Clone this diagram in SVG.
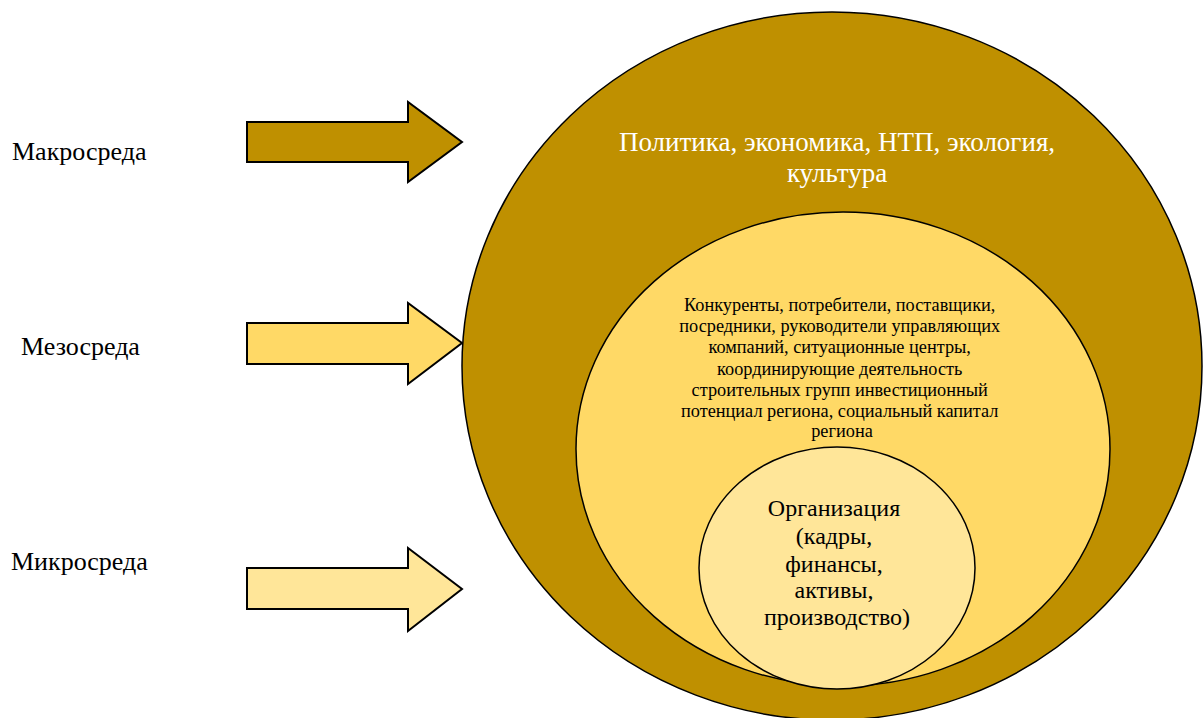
<svg xmlns="http://www.w3.org/2000/svg" width="1203" height="718" viewBox="0 0 1203 718">
<style>
.t{font-family:"Liberation Serif","Times New Roman",serif;text-anchor:middle}
.lbl{font-family:"Liberation Serif","Times New Roman",serif;font-size:26px;fill:#000}
.arr{stroke:#000;stroke-width:2;stroke-linejoin:miter}
.ell{stroke:#000;stroke-width:1.5}
</style>
<rect width="1203" height="718" fill="#fff"/>
<g id="label-macro"><text class="lbl" x="12" y="160">Макросреда</text></g>
<g id="label-meso"><text class="lbl" x="21" y="355">Мезосреда</text></g>
<g id="label-micro"><text class="lbl" x="11" y="570">Микросреда</text></g>
<g id="connectors">
<polygon class="arr" fill="#BF9000" points="247,122 408,122 408,102 462,142 408,182 408,162 247,162"/>
<polygon class="arr" fill="#FFD966" points="247,323 408,323 408,303 462,343 408,384 408,364 247,364"/>
<polygon class="arr" fill="#FFE699" points="247,568 408,568 408,548 462,589 408,631 408,609 247,609"/>
</g>
<g id="macro">
<ellipse class="ell" cx="832" cy="366" rx="370" ry="354" fill="#BF9000"/>
<text class="t" font-size="27" fill="#fff" x="837" y="151">Политика, экономика, НТП, экология,</text>
<text class="t" font-size="27" fill="#fff" x="837" y="182">культура</text>
</g>
<g id="meso">
<ellipse class="ell" cx="843" cy="449" rx="267" ry="237" fill="#FFD966"/>
<text class="t" font-size="18.3" fill="#000">
<tspan x="842" y="311">Конкуренты, потребители, поставщики,</tspan>
<tspan x="842" y="332">посредники, руководители управляющих</tspan>
<tspan x="842" y="353">компаний, ситуационные центры,</tspan>
<tspan x="842" y="375">координирующие деятельность</tspan>
<tspan x="842" y="396">строительных групп инвестиционный</tspan>
<tspan x="842" y="417">потенциал региона, социальный капитал</tspan>
<tspan x="842" y="437">региона</tspan>
</text>
</g>
<g id="micro">
<ellipse class="ell" cx="837" cy="568" rx="138" ry="121" fill="#FFE699"/>
<text class="t" font-size="24" fill="#000">
<tspan x="837" y="516">Организация</tspan>
<tspan x="837" y="544">(кадры,</tspan>
<tspan x="837" y="572">финансы,</tspan>
<tspan x="837" y="598">активы,</tspan>
<tspan x="837" y="625">производство)</tspan>
</text>
</g>
</svg>
